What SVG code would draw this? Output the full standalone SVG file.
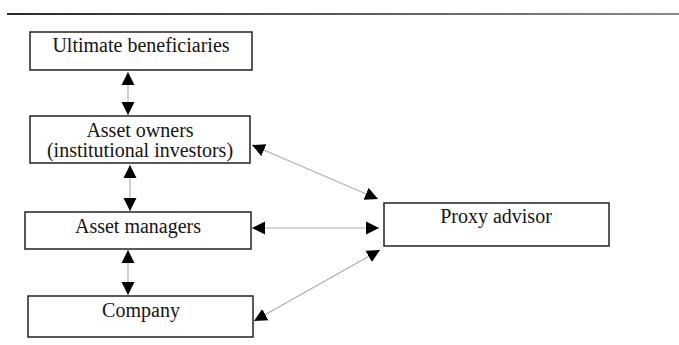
<svg xmlns="http://www.w3.org/2000/svg" width="679" height="345" viewBox="0 0 679 345">
<style>
.box{fill:#fff;stroke:#222;stroke-width:1.5}
.lbl{font-family:"Liberation Serif","Times New Roman",serif;font-size:20px;fill:#141414;text-anchor:middle}
.con{stroke:#b0b0b0;stroke-width:1.2;fill:none;marker-start:url(#ah);marker-end:url(#ah)}
</style>
<defs>
<linearGradient id="rule" x1="0" x2="1" y1="0" y2="0">
<stop offset="0" stop-color="#2a2a2a"/>
<stop offset="1" stop-color="#8a8a8a"/>
</linearGradient>
<marker id="ah" markerUnits="userSpaceOnUse" markerWidth="14" markerHeight="14" viewBox="0 0 14 14" refX="13" refY="7" orient="auto-start-reverse">
<path d="M0,0.5 L13,7 L0,13.5 Z" fill="#000"/>
</marker>
</defs>
<rect x="7" y="13" width="672" height="2" fill="url(#rule)"/>
<g id="ultimate"><rect class="box" x="30" y="32" width="222" height="38"/><text class="lbl" x="141" y="52">Ultimate beneficiaries</text></g>
<g id="owners"><rect class="box" x="30" y="116" width="220" height="47"/><text class="lbl" x="140" y="137">Asset owners</text><text class="lbl" x="140" y="157">(institutional investors)</text></g>
<g id="managers"><rect class="box" x="25" y="212" width="226" height="37"/><text class="lbl" x="138" y="233">Asset managers</text></g>
<g id="company"><rect class="box" x="28" y="296" width="225" height="41"/><text class="lbl" x="141" y="317">Company</text></g>
<g id="proxy"><rect class="box" x="384" y="203" width="225" height="43"/><text class="lbl" x="496" y="223">Proxy advisor</text></g>
<g id="connectors">
<line class="con" x1="128" y1="72" x2="128" y2="115"/>
<line class="con" x1="130" y1="165" x2="130" y2="211"/>
<line class="con" x1="128" y1="250" x2="128" y2="295"/>
<line class="con" x1="252" y1="145" x2="378" y2="199"/>
<line class="con" x1="252" y1="228" x2="379" y2="228"/>
<line class="con" x1="254" y1="321" x2="380" y2="250"/>
</g>
</svg>
